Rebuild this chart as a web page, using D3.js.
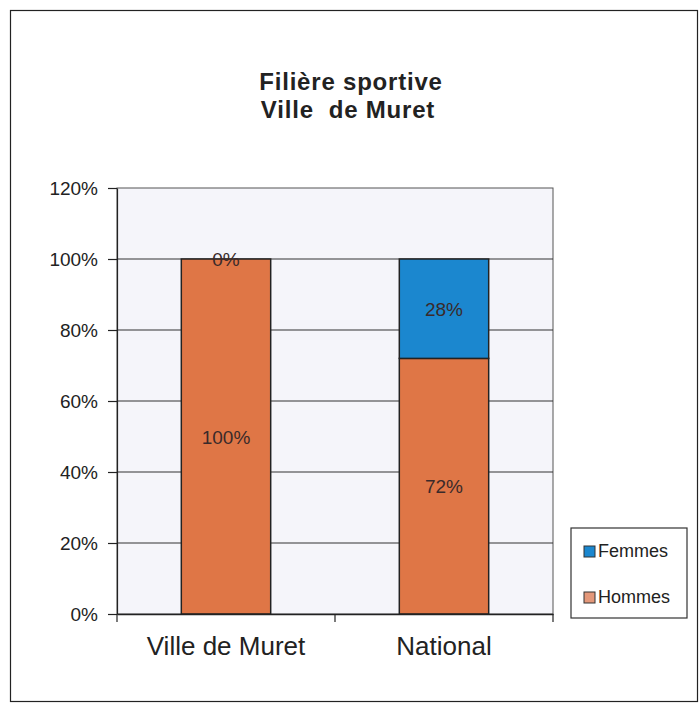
<!DOCTYPE html>
<html>
<head>
<meta charset="utf-8">
<script src="https://cdn.jsdelivr.net/npm/d3@7"></script>
<style>
  body { margin: 0; background: #fff; }
  svg { display: block; font-family: "Liberation Sans", Arial, sans-serif; }
</style>
</head>
<body>
<svg></svg>
<script>
var categories = ["Ville de Muret", "National"];
var hommes = [1.00, 0.72];
var femmes = [0.00, 0.28];
var seriesNames = ["Hommes", "Femmes"];
var yTicks = [0, 0.2, 0.4, 0.6, 0.8, 1.0, 1.2];

var W = 700, H = 704;
var margin = {top: 188, left: 117, right: 147, bottom: 90};
var width = W - margin.left - margin.right;
var height = H - margin.top - margin.bottom;

var colors = {Hommes: "#df7646", Femmes: "#1b87cf"};

var svg = d3.select("svg").attr("width", W).attr("height", H);

// outer frame
svg.append("rect")
  .attr("x", 10.5).attr("y", 10.5)
  .attr("width", 687).attr("height", 691)
  .attr("fill", "#fff").attr("stroke", "#222").attr("stroke-width", 1.2);

// title
svg.append("text").attr("x", 351).attr("y", 90)
  .attr("text-anchor", "middle").attr("font-size", 24).attr("font-weight", "bold")
  .attr("letter-spacing", 0.8).attr("fill", "#222").text("Filière sportive");
svg.append("text").attr("x", 348).attr("y", 118)
  .attr("text-anchor", "middle").attr("font-size", 24).attr("font-weight", "bold")
  .attr("letter-spacing", 0.8).attr("fill", "#222").attr("xml:space", "preserve").text("Ville  de Muret");

var g = svg.append("g")
  .attr("transform", "translate(" + margin.left + "," + margin.top + ")");

var x = d3.scaleBand().domain(categories).range([0, width]).paddingInner(0.59).paddingOuter(0.295);
var y = d3.scaleLinear().domain([0, 1.2]).range([height, 0]);

// plot background
g.append("rect").attr("width", width).attr("height", height)
  .attr("fill", "#f5f5fa").attr("stroke", "#555").attr("stroke-width", 1);

// gridlines
g.selectAll(".grid").data(yTicks.slice(1, -1)).enter().append("line")
  .attr("x1", 0).attr("x2", width)
  .attr("y1", d => y(d)).attr("y2", d => y(d))
  .attr("stroke", "#333").attr("stroke-width", 1.2);

// stacked data
var rows = categories.map((c, i) => ({cat: c, Hommes: hommes[i], Femmes: femmes[i]}));
var stack = d3.stack().keys(seriesNames)(rows);

var layer = g.selectAll(".layer").data(stack).enter().append("g")
  .attr("fill", d => colors[d.key]);

layer.selectAll("rect").data(d => d).enter().append("rect")
  .attr("x", d => x(d.data.cat))
  .attr("width", x.bandwidth())
  .attr("y", d => y(d[1]))
  .attr("height", d => y(d[0]) - y(d[1]))
  .attr("stroke", "#222").attr("stroke-width", 1.5);

// value labels
stack.forEach(function(s) {
  g.selectAll(".lbl-" + s.key).data(s).enter().append("text")
    .attr("x", d => x(d.data.cat) + x.bandwidth() / 2)
    .attr("y", d => (y(d[0]) + y(d[1])) / 2 + 7)
    .attr("text-anchor", "middle").attr("font-size", 19).attr("fill", "#3a2a2a")
    .text(d => Math.round((d[1] - d[0]) * 100) + "%");
});

// y axis
var yAxis = g.append("g")
  .call(d3.axisLeft(y).tickValues(yTicks).tickFormat(d3.format(".0%")).tickSize(9).tickSizeOuter(0));
yAxis.select(".domain").attr("stroke", "#222").attr("stroke-width", 1.2);
yAxis.selectAll(".tick line").attr("stroke", "#222").attr("stroke-width", 1.2);
yAxis.selectAll("text").attr("font-size", 19).attr("fill", "#222").attr("x", -19).attr("dy", "0.36em")
  .style("font-family", "Liberation Sans, Arial, sans-serif");

// x axis
var xAxis = g.append("g").attr("transform", "translate(0," + height + ")")
  .call(d3.axisBottom(x).tickSize(0).tickSizeOuter(0));
xAxis.select(".domain").attr("stroke", "#222").attr("stroke-width", 1.5);
xAxis.selectAll("text").attr("font-size", 26).attr("fill", "#222").attr("dy", 0).attr("y", 41)
  .style("font-family", "Liberation Sans, Arial, sans-serif");
// category separator ticks
var sepX = [0, width / 2, width];
xAxis.selectAll(".sep").data(sepX).enter().append("line")
  .attr("x1", d => d).attr("x2", d => d).attr("y1", 0).attr("y2", 8)
  .attr("stroke", "#222").attr("stroke-width", 1.2);

// legend
var legend = svg.append("g").attr("transform", "translate(571,528)");
legend.append("rect").attr("width", 116).attr("height", 90)
  .attr("fill", "#fff").attr("stroke", "#333").attr("stroke-width", 1.2);
var legendItems = ["Femmes", "Hommes"];
legendItems.forEach(function(name, i) {
  var ly = 29 + i * 46;
  legend.append("rect").attr("x", 13).attr("y", ly - 11).attr("width", 11).attr("height", 11)
    .attr("fill", name === "Hommes" ? "#e4987a" : colors[name]).attr("stroke", "#333").attr("stroke-width", 1);
  legend.append("text").attr("x", 27).attr("y", ly)
    .attr("font-size", 18).attr("fill", "#222").text(name);
});
</script>
</body>
</html>
